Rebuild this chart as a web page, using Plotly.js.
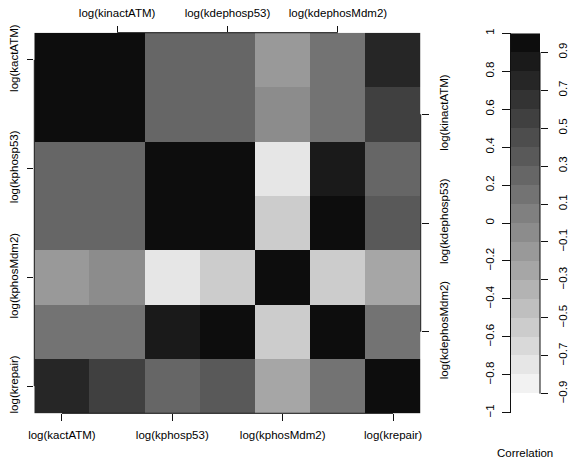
<!DOCTYPE html>
<html>
<head>
<meta charset="utf-8">
<script src="https://cdn.plot.ly/plotly-3.0.1.min.js"></script>
<style>
  html, body { margin: 0; padding: 0; background: #fff; }
  #chart { width: 569px; height: 470px; }
</style>
</head>
<body>
<div id="chart"></div>
<script>
// ---------- data ----------
const params = ["log(kactATM)", "log(kinactATM)", "log(kphosp53)", "log(kdephosp53)",
                "log(kphosMdm2)", "log(kdephosMdm2)", "log(krepair)"];

const corrKactATM     = [ 1.00,  0.95,  0.25,  0.24, -0.15,  0.14,  0.75];
const corrKinactATM   = [ 0.95,  1.00,  0.25,  0.25, -0.05,  0.15,  0.55];
const corrKphosp53    = [ 0.25,  0.25,  1.00,  0.96, -0.75,  0.85,  0.25];
const corrKdephosp53  = [ 0.24,  0.25,  0.96,  1.00, -0.55,  0.95,  0.35];
const corrKphosMdm2   = [-0.15, -0.05, -0.75, -0.55,  1.00, -0.55, -0.25];
const corrKdephosMdm2 = [ 0.14,  0.15,  0.85,  0.95, -0.55,  1.00,  0.15];
const corrKrepair     = [ 0.75,  0.55,  0.25,  0.35, -0.25,  0.15,  1.00];

const bottomTickIdx = [0, 2, 4, 6];
const topTickIdx    = [1, 3, 5];

const breaks = [-1, -0.9, -0.8, -0.7, -0.6, -0.5, -0.4, -0.3, -0.2, -0.1, 0,
                0.1, 0.2, 0.3, 0.4, 0.5, 0.6, 0.7, 0.8, 0.9, 1];
const palette = ["#FFFFFF", "#F2F2F2", "#E6E6E6", "#D9D9D9", "#CCCCCC", "#BFBFBF",
                 "#B3B3B3", "#A6A6A6", "#999999", "#8C8C8C", "#808080", "#737373",
                 "#666666", "#595959", "#4D4D4D", "#404040", "#333333", "#262626",
                 "#1A1A1A", "#0D0D0D"];
const legendLeftTicks  = [-1, -0.8, -0.6, -0.4, -0.2, 0, 0.2, 0.4, 0.6, 0.8, 1];
const legendRightTicks = [-0.9, -0.7, -0.5, -0.3, -0.1, 0.1, 0.3, 0.5, 0.7, 0.9];
const legendTitle = "Correlation";

// ---------- build ----------
const z = [corrKactATM, corrKinactATM, corrKphosp53, corrKdephosp53,
           corrKphosMdm2, corrKdephosMdm2, corrKrepair];
const idx = params.map((_, i) => i);

const zmin = breaks[0], zmax = breaks[breaks.length - 1];
const colorscale = [];
palette.forEach((c, i) => {
  colorscale.push([(breaks[i] - zmin) / (zmax - zmin), c]);
  colorscale.push([(breaks[i + 1] - zmin) / (zmax - zmin), c]);
});
const mids = palette.map((_, i) => (breaks[i] + breaks[i + 1]) / 2);

const W = 569, H = 470;
const px = v => v / W, py = v => 1 - v / H;
const FONT = {family: "Liberation Sans, Arial, Helvetica, sans-serif", size: 11.5, color: "#000"};
const LINE = "#111";

const main = {
  type: "heatmap", x: idx, y: idx, z: z,
  zmin: zmin, zmax: zmax, colorscale: colorscale, showscale: false,
  xaxis: "x", yaxis: "y", hoverinfo: "z"
};
const bar = {
  type: "heatmap", x: [0], y: mids, z: mids.map(m => [m]),
  zmin: zmin, zmax: zmax, colorscale: colorscale, showscale: false,
  xaxis: "x3", yaxis: "y3", hoverinfo: "z"
};
// invisible helpers so the secondary (top / right) axes are drawn
const helperTop = {type: "scatter", mode: "markers", x: [idx[0]], y: [idx[0]],
  xaxis: "x2", yaxis: "y2", marker: {opacity: 0}, hoverinfo: "skip", showlegend: false};
const helperBar = {type: "scatter", mode: "markers", x: [0], y: [mids[0]],
  xaxis: "x3", yaxis: "y4", marker: {opacity: 0}, hoverinfo: "skip", showlegend: false};

const baseAx = {
  showgrid: false, zeroline: false, showline: false,
  ticks: "outside", ticklen: 7, tickwidth: 1, tickcolor: LINE,
  tickfont: FONT, fixedrange: true
};

const layout = {
  width: W, height: H,
  margin: {l: 0, r: 0, t: 0, b: 0},
  paper_bgcolor: "#fff", plot_bgcolor: "#fff",
  font: FONT,
  showlegend: false,
  xaxis: Object.assign({}, baseAx, {
    domain: [px(34.3), px(420.7)], range: [-0.5, 6.5], anchor: "y", side: "bottom",
    tickmode: "array", tickvals: bottomTickIdx, ticktext: bottomTickIdx.map(i => params[i]),
    ticklabelstandoff: 4
  }),
  xaxis2: Object.assign({}, baseAx, {
    domain: [px(34.3), px(420.7)], range: [-0.5, 6.5], anchor: "y2", side: "top", overlaying: "x",
    tickmode: "array", tickvals: topTickIdx, ticktext: topTickIdx.map(i => params[i]),
    ticklabelstandoff: 4, ticklen: 6
  }),
  yaxis: Object.assign({}, baseAx, {
    domain: [py(413.3), py(32.7)], range: [6.5, -0.5], anchor: "x", side: "left",
    tickmode: "array", tickvals: bottomTickIdx, ticktext: bottomTickIdx.map(i => params[i]),
    tickangle: -90, ticklabelstandoff: 5, ticklen: 6
  }),
  yaxis2: Object.assign({}, baseAx, {
    domain: [py(413.3), py(32.7)], range: [6.5, -0.5], anchor: "x2", side: "right", overlaying: "y",
    tickmode: "array", tickvals: topTickIdx, ticktext: topTickIdx.map(i => params[i]),
    tickangle: -90, ticklabelstandoff: 5
  }),
  xaxis3: {
    domain: [px(511), px(540)], range: [-0.5, 0.5], anchor: "y3",
    showgrid: false, zeroline: false, showline: false, showticklabels: false, ticks: "", fixedrange: true
  },
  yaxis3: Object.assign({}, baseAx, {
    domain: [py(412.7), py(33.3)], range: [zmin, zmax], anchor: "x3", side: "left",
    tickmode: "array", tickvals: legendLeftTicks, tickformat: "~g",
    tickangle: -90, ticklabelstandoff: 3, ticklen: 8,
    showline: true, linecolor: LINE, linewidth: 1
  }),
  yaxis4: Object.assign({}, baseAx, {
    domain: [py(412.7), py(33.3)], range: [zmin, zmax], anchor: "x3", side: "right", overlaying: "y3",
    tickmode: "array", tickvals: legendRightTicks, tickformat: "~g",
    tickangle: -90, ticklabelstandoff: 5
  }),
  shapes: [
    // R-style axis lines spanning first to last tick
    {type: "line", xref: "x", yref: "paper", x0: bottomTickIdx[0], x1: bottomTickIdx[bottomTickIdx.length - 1],
     y0: py(413.3), y1: py(413.3), line: {color: LINE, width: 1}},
    {type: "line", xref: "x", yref: "paper", x0: topTickIdx[0], x1: topTickIdx[topTickIdx.length - 1],
     y0: py(32.7), y1: py(32.7), line: {color: LINE, width: 1}},
    {type: "line", xref: "paper", yref: "y", x0: px(34.3), x1: px(34.3),
     y0: bottomTickIdx[0], y1: bottomTickIdx[bottomTickIdx.length - 1], line: {color: LINE, width: 1}},
    {type: "line", xref: "paper", yref: "y", x0: px(420.7), x1: px(420.7),
     y0: topTickIdx[0], y1: topTickIdx[topTickIdx.length - 1], line: {color: LINE, width: 1}},
    {type: "line", xref: "paper", yref: "y3", x0: px(540), x1: px(540),
     y0: legendRightTicks[0], y1: legendRightTicks[legendRightTicks.length - 1], line: {color: LINE, width: 1}}
  ],
  annotations: [
    {text: legendTitle, xref: "paper", yref: "paper", x: px(525), y: py(453),
     xanchor: "center", yanchor: "middle", showarrow: false, font: FONT}
  ]
};

Plotly.newPlot("chart", [main, bar, helperTop, helperBar], layout, {displayModeBar: false, staticPlot: true});
</script>
</body>
</html>
